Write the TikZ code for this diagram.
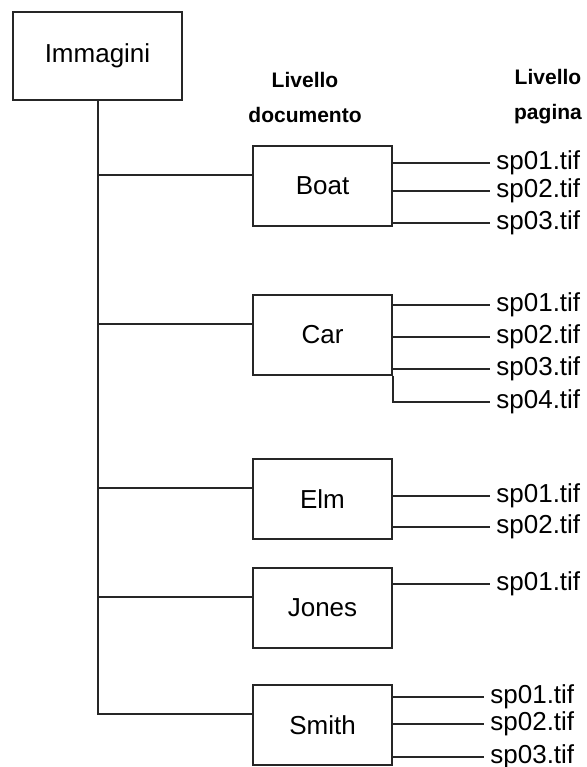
\documentclass[tikz,border=0pt]{standalone}
\usepackage{fontspec}
\setmainfont{Liberation Sans}
\begin{document}
\begin{tikzpicture}[
  x=0.5pt, y=-0.5pt,
  box/.style={
    draw, line width=1pt, draw=black!85,
    minimum width=69.5pt, minimum height=40pt,
    inner sep=0pt,
    font=\fontsize{13}{15}\selectfont
  },
  leaf/.style={anchor=west, inner sep=3pt, font=\fontsize{13}{15}\selectfont},
  head/.style={font=\fontsize{10.5}{17.5}\selectfont\bfseries, align=center},
  link/.style={line width=1pt, black!85}
]
\useasboundingbox (0,0) rectangle (586,767);

% --- Root ---
\node[box, minimum width=84.5pt, minimum height=44pt] (root) at (97.5,56) {Immagini};

% --- Headers ---
\node[head] (doclevel) at (305,97) {Livello\\documento};
\node[head] (pagelevel) at (548,97) {Livello\\pagina};

% --- Document level ---
\foreach \name/\txt/\y in
  {boat/Boat/186, car/Car/334.5, elm/Elm/499, jones/Jones/607.5, smith/Smith/725}
{
  \node[box] (\name) at (322.5,\y) {\txt};
  \coordinate (\name-in) at ([yshift=-15pt]\name.north west);
}

% --- Trunk and branches ---
\draw[link] (root.south) -- (root.south |- smith-in) -- (smith-in);
\foreach \name in {boat,car,elm,jones}
  \draw[link] (root.south |- \name-in) -- (\name-in);

% --- Page level ---
\foreach \y [count=\i] in {163,191,223}
{
  \node[leaf] (boat-p\i) at (490,\y) {sp0\i.tif};
  \draw[link] (boat.east |- boat-p\i.west) -- (boat-p\i.west);
}
\foreach \y [count=\i] in {305,337,369}
{
  \node[leaf] (car-p\i) at (490,\y) {sp0\i.tif};
  \draw[link] (car.east |- car-p\i.west) -- (car-p\i.west);
}
\node[leaf] (car-p4) at (490,402) {sp04.tif};
\draw[link] (car.south east) -- (car.south east |- car-p4.west) -- (car-p4.west);
\foreach \y [count=\i] in {496,527}
{
  \node[leaf] (elm-p\i) at (490,\y) {sp0\i.tif};
  \draw[link] (elm.east |- elm-p\i.west) -- (elm-p\i.west);
}
\node[leaf] (jones-p1) at (490,584) {sp01.tif};
\draw[link] (jones.east |- jones-p1.west) -- (jones-p1.west);
\foreach \y [count=\i] in {697,724,757}
{
  \node[leaf] (smith-p\i) at (484,\y) {sp0\i.tif};
  \draw[link] (smith.east |- smith-p\i.west) -- (smith-p\i.west);
}

\end{tikzpicture}
\end{document}
